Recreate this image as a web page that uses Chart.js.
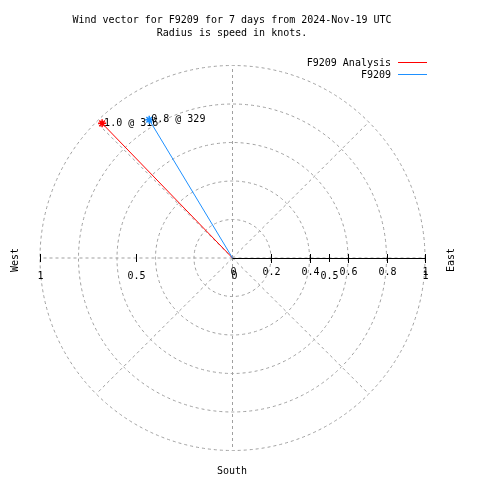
<!DOCTYPE html>
<html>
<head>
<meta charset="utf-8">
<script src="https://cdn.jsdelivr.net/npm/chart.js@4.4.0/dist/chart.umd.min.js"></script>
<style>
    body { margin: 0; background: #fff; }
    canvas { display: block; }
</style>
</head>
<body>
<canvas id="wind_canvas" width="480" height="480"></canvas>
<script>

// chart data
let titleLines = ["Wind vector for F9209 for 7 days from 2024-Nov-19 UTC", "Radius is speed in knots."]
let seriesNames = ["F9209 Analysis", "F9209"]
let seriesColors = ["#ff0000", "#1e90ff"]
let speeds = [0.975, 0.84]
let directions = [316, 329]
let radialTicks = [0, 0.2, 0.4, 0.6, 0.8, 1]
let axisTicks = [-1, -0.5, 0, 0.5, 1]
let gridRadii = [0.2, 0.4, 0.6, 0.8, 1]
let spokeAngles = [0, 45, 90, 135, 180, 225, 270, 315]

let FONT = '10px "DejaVu Sans Mono", "Liberation Mono", monospace'
let GRID = '#a0a0a0'


// compass direction (0 = north, clockwise) -> x/y
function toXY(r, deg) {
    let a = deg * Math.PI / 180
    return { x: r * Math.sin(a), y: r * Math.cos(a) }
}


let polarGrid = {
    id: 'polarGrid',
    beforeDatasetsDraw(chart) {
        let ctx = chart.ctx
        let xs = chart.scales.x, ys = chart.scales.y
        let cx = xs.getPixelForValue(0), cy = ys.getPixelForValue(0)
        let unit = xs.getPixelForValue(1) - cx

        ctx.save()
        ctx.strokeStyle = GRID
        ctx.lineWidth = 1
        ctx.setLineDash([3, 3])
        gridRadii.forEach(r => {
            ctx.beginPath()
            ctx.arc(cx, cy, r * unit, 0, Math.PI * 2)
            ctx.stroke()
        })
        spokeAngles.forEach(deg => {
            let p = toXY(1, deg)
            ctx.beginPath()
            ctx.moveTo(cx, cy)
            ctx.lineTo(xs.getPixelForValue(p.x), ys.getPixelForValue(p.y))
            ctx.stroke()
        })
        ctx.setLineDash([])

        // radial axis toward east
        ctx.strokeStyle = '#000'
        ctx.beginPath()
        ctx.moveTo(cx, cy + 0.5)
        ctx.lineTo(xs.getPixelForValue(1), cy + 0.5)
        ctx.stroke()

        ctx.fillStyle = '#000'
        ctx.font = FONT
        ctx.textAlign = 'center'
        ctx.textBaseline = 'middle'

        radialTicks.forEach(v => {
            let x = Math.round(xs.getPixelForValue(v)) + 0.5
            if (v > 0) {
                ctx.beginPath()
                ctx.moveTo(x, cy - 4)
                ctx.lineTo(x, cy + 5)
                ctx.stroke()
            }
            ctx.fillText(String(v), x, cy + 14)
        })
        axisTicks.forEach(v => {
            let x = Math.round(xs.getPixelForValue(v)) + 0.5
            if (v !== 0) {
                ctx.beginPath()
                ctx.moveTo(x, cy - 4)
                ctx.lineTo(x, cy + 4)
                ctx.stroke()
            }
            ctx.fillText(String(Math.abs(v)), x + (v === 0 ? 1 : 0), cy + 18)
        })
        ctx.restore()
    },
    afterDatasetDraw(chart, args) {
        // speed @ direction label next to the vector tip
        let ctx = chart.ctx
        let i = args.index
        let p = toXY(speeds[i], directions[i])
        let px = chart.scales.x.getPixelForValue(p.x)
        let py = chart.scales.y.getPixelForValue(p.y)
        ctx.save()
        ctx.fillStyle = '#000'
        ctx.font = FONT
        ctx.textAlign = 'left'
        ctx.textBaseline = 'middle'
        ctx.fillText(speeds[i].toFixed(1) + ' @ ' + directions[i], px + 2, py)
        ctx.restore()
    },
    afterDraw(chart) {
        let ctx = chart.ctx
        ctx.save()
        ctx.fillStyle = '#000'
        ctx.font = FONT
        ctx.textBaseline = 'middle'

        // title
        ctx.textAlign = 'center'
        ctx.fillText(titleLines[0], 232, 20)
        ctx.fillText(titleLines[1], 232, 33)

        // legend
        ctx.textAlign = 'right'
        seriesNames.forEach((name, i) => {
            let y = 63 + i * 12
            ctx.fillText(name, 391, y)
            ctx.strokeStyle = seriesColors[i]
            ctx.lineWidth = 1
            ctx.beginPath()
            ctx.moveTo(398, y - 0.5)
            ctx.lineTo(427, y - 0.5)
            ctx.stroke()
        })

        // compass labels
        ctx.textAlign = 'center'
        ctx.fillText('South', 232, 471)
        ctx.save()
        ctx.translate(15, 260)
        ctx.rotate(-Math.PI / 2)
        ctx.fillText('West', 0, 0)
        ctx.restore()
        ctx.save()
        ctx.translate(451, 260)
        ctx.rotate(-Math.PI / 2)
        ctx.fillText('East', 0, 0)
        ctx.restore()

        ctx.restore()
    }
}


function init_chart() {
    let datasets = seriesNames.map((name, i) => {
        let tip = toXY(speeds[i], directions[i])
        return {
            label: name,
            data: [{ x: 0, y: 0 }, tip],
            showLine: true,
            borderColor: seriesColors[i],
            borderWidth: 1,
            pointStyle: 'star',
            pointRadius: [0, 4],
            pointBorderColor: seriesColors[i],
            pointBorderWidth: 1.5,
            order: seriesNames.length - i
        }
    })

    new Chart(document.getElementById('wind_canvas'), {
        type: 'scatter',
        data: { datasets: datasets },
        options: {
            responsive: false,
            animation: false,
            events: [],
            layout: { padding: { left: 40, right: 55, top: 66, bottom: 30 } },
            scales: {
                x: { type: 'linear', min: -1, max: 1, display: false },
                y: { type: 'linear', min: -1, max: 1, display: false }
            },
            plugins: {
                legend: { display: false },
                tooltip: { enabled: false },
                title: { display: false }
            }
        },
        plugins: [polarGrid]
    })
}

init_chart()
</script>
</body>
</html>
